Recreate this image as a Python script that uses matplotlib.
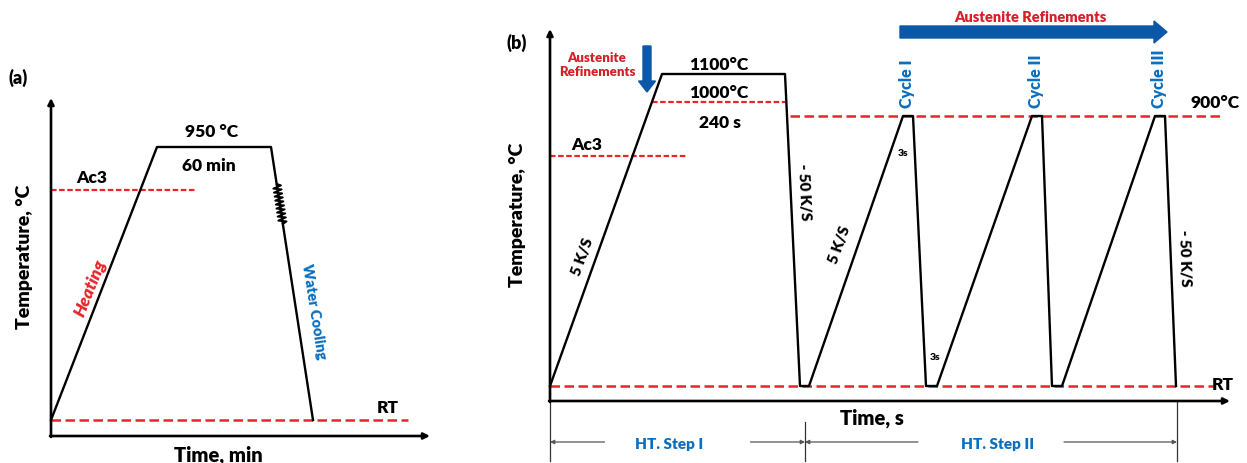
import numpy as np
import matplotlib
matplotlib.use("Agg")
import matplotlib.pyplot as plt

W, H = 1247, 464
RED = "#e5262b"
DRED = "#d42029"
BLUE = "#0a6fc0"
ARROW_BLUE = "#0b57a8"
GREY = "#555555"

# schematic units, roughly 1 unit per pixel, origin at the axis corner
# panel (a): conventional austenitising + water quench
A_TIME = [0, 106, 220, 262]
A_TEMP = [16, 289, 289, 16]
A_RT, A_RT_END = 16, 357
A_AC3, A_AC3_END = 246, 146
A_XMAX, A_YMAX = 379, 338

# panel (b): two step treatment with three thermal cycles
B_TIME = [0, 112, 235, 250, 259, 353, 363, 376, 387, 482, 492, 502, 512, 605, 615, 626]
B_TEMP = [15, 327, 327, 15, 15, 285, 285, 15, 15, 285, 285, 15, 15, 285, 285, 15]
B_RT, B_RT_END = 15, 663
B_AC3, B_AC3_END = 245, 137
B_1000, B_1000_SPAN = 299, (102, 235)
B_900, B_900_SPAN = 285, (240, 673)
B_XMAX, B_YMAX = 680, 372
CYCLES = ["Cycle I", "Cycle II", "Cycle III"]
CYCLE_PEAKS = [(353, 363), (482, 492), (605, 615)]
STEP_EDGES = [0, 255, 627]
STEP_LABELS = ["HT. Step I", "HT. Step II"]

plt.rcParams["font.family"] = ["Lato", "DejaVu Sans"]
plt.rcParams["font.weight"] = "heavy"

fig = plt.figure(figsize=(W / 100, H / 100), dpi=100)


def make_axes(x0, y0, xmax, ymax):
    ax = fig.add_axes([x0 / W, (H - y0) / H, xmax / W, ymax / H])
    ax.set_xlim(0, xmax)
    ax.set_ylim(0, ymax)
    ax.axis("off")
    return ax


def axis_arrows(ax, xmax, ymax):
    kw = dict(arrowstyle="-|>", lw=1.9, color="black", mutation_scale=9, shrinkA=0, shrinkB=0)
    ax.annotate("", xy=(xmax, 0), xytext=(-1, 0), arrowprops=kw, annotation_clip=False)
    ax.annotate("", xy=(0, ymax), xytext=(0, -1), arrowprops=kw, annotation_clip=False)


def long_dash(ax, x, y):
    ax.plot(x, y, color=RED, lw=1.8, dashes=(3.8, 1.8), clip_on=False)


def short_dash(ax, x, y):
    ax.plot(x, y, color=RED, lw=1.6, dashes=(2.5, 1.15), clip_on=False)


# ---------------- panel (a) ----------------
ax = make_axes(51, 437, A_XMAX, A_YMAX)
axis_arrows(ax, A_XMAX, A_YMAX)
long_dash(ax, [0, A_RT_END], [A_RT, A_RT])
short_dash(ax, [0, A_AC3_END], [A_AC3, A_AC3])
ax.plot(A_TIME, A_TEMP, color="black", lw=1.7, clip_on=False)

# spring symbol on the quench line
p0 = np.array([A_TIME[2], A_TEMP[2]], float)
p1 = np.array([A_TIME[3], A_TEMP[3]], float)
nrm = np.array([-(p1 - p0)[1], (p1 - p0)[0]]) / np.linalg.norm(p1 - p0)
t0 = (A_TEMP[2] - 252) / (A_TEMP[2] - A_TEMP[3])
t1 = (A_TEMP[2] - 212) / (A_TEMP[2] - A_TEMP[3])
s = np.linspace(t0, t1, 21)
amp = np.where(np.arange(21) % 2 == 0, -4.0, 4.0)
amp[0] = amp[-1] = 0
pts = p0[None, :] + s[:, None] * (p1 - p0)[None, :] + amp[:, None] * nrm[None, :]
ax.plot(pts[:, 0], pts[:, 1], color="black", lw=1.4)

ax.text(-33, 359, "(a)", fontsize=13, ha="center", va="center")
ax.text(161, 305, "950 °C", fontsize=12.5, ha="center", va="center")
ax.text(158, 271, "60 min", fontsize=12.5, ha="center", va="center")
ax.text(41, 259, "Ac3", fontsize=12.5, ha="center", va="center")
ax.text(39, 149, "Heating", fontsize=12.5, ha="center", va="center", rotation=68,
        color=RED, style="italic")
ax.text(263, 125, "Water Cooling", fontsize=10.5, ha="center", va="center", rotation=-81,
        color=BLUE)
ax.text(337, 29, "RT", fontsize=12.5, ha="center", va="center")
ax.text(167, -18, "Time, min", fontsize=14.5, ha="center", va="center")
ax.text(-26, 180, "Temperature, °C", fontsize=14, ha="center", va="center", rotation=90)

# ---------------- panel (b) ----------------
bx = make_axes(550, 402, B_XMAX, B_YMAX)
axis_arrows(bx, B_XMAX, B_YMAX)
long_dash(bx, [0, B_RT_END], [B_RT, B_RT])
long_dash(bx, list(B_900_SPAN), [B_900, B_900])
short_dash(bx, [0, B_AC3_END], [B_AC3, B_AC3])
short_dash(bx, list(B_1000_SPAN), [B_1000, B_1000])
bx.plot(B_TIME, B_TEMP, color="black", lw=1.7, clip_on=False)

bx.text(-33, 359, "(b)", fontsize=13, ha="center", va="center")
bx.text(47, 337, "Austenite\nRefinements", fontsize=9.5, ha="center", va="center",
        color=DRED, linespacing=1.25)
bx.arrow(97, 355, 0, -46, width=8, head_width=17, head_length=11,
         length_includes_head=True, color=ARROW_BLUE, clip_on=False)
bx.text(169, 337, "1100°C", fontsize=12.5, ha="center", va="center")
bx.text(169, 309, "1000°C", fontsize=12.5, ha="center", va="center")
bx.text(170, 279, "240 s", fontsize=12.5, ha="center", va="center")
bx.text(37, 257, "Ac3", fontsize=12.5, ha="center", va="center")
bx.text(33, 145, "5 K/S", fontsize=11, ha="center", va="center", rotation=70)
bx.text(254, 210, "- 50 K/S", fontsize=11, ha="center", va="center", rotation=-87)
bx.text(290, 157, "5 K/S", fontsize=11, ha="center", va="center", rotation=70)
bx.text(353, 249, "3s", fontsize=7.5, ha="center", va="center")
bx.text(385, 44, "3s", fontsize=7.5, ha="center", va="center")
bx.text(634, 144, "- 50 K/S", fontsize=11, ha="center", va="center", rotation=-88)
bx.text(665, 299, "900°C", fontsize=12.5, ha="center", va="center")
bx.text(673, 17, "RT", fontsize=12.5, ha="center", va="center")
bx.text(322, -16, "Time, s", fontsize=14.5, ha="center", va="center")
bx.text(-32, 187, "Temperature, °C", fontsize=14, ha="center", va="center", rotation=90)

for name, (lo, hi) in zip(CYCLES, CYCLE_PEAKS):
    bx.text((lo + hi) / 2 - 1, 294, name, fontsize=11.5, ha="center", va="bottom",
            rotation=90, color=BLUE)

bx.arrow(350, 369, 267, 0, width=12, head_width=22, head_length=13,
         length_includes_head=True, color=ARROW_BLUE, clip_on=False)
bx.text(480, 385, "Austenite Refinements", fontsize=10.5, ha="center", va="center", color=DRED)

# dimension lines under the time axis
for i, xe in enumerate(STEP_EDGES):
    top = -21 if 0 < i < len(STEP_EDGES) - 1 else 0
    bx.plot([xe, xe], [top, -60], color="#333333", lw=0.9, clip_on=False)
dim = dict(arrowstyle="-|>", lw=0.9, color=GREY, mutation_scale=6, shrinkA=0, shrinkB=0)
for (lo, hi), label in zip(zip(STEP_EDGES[:-1], STEP_EDGES[1:]), STEP_LABELS):
    mid = (lo + hi) / 2
    bx.annotate("", xy=(lo, -41), xytext=(mid - 73, -41), arrowprops=dim, annotation_clip=False)
    bx.annotate("", xy=(hi, -41), xytext=(mid + 73, -41), arrowprops=dim, annotation_clip=False)
    bx.text(mid - 8 if len(label) == 10 else mid + 7, -43, label, fontsize=11,
            ha="center", va="center", color=BLUE)

fig.savefig("out.png", dpi=100)
